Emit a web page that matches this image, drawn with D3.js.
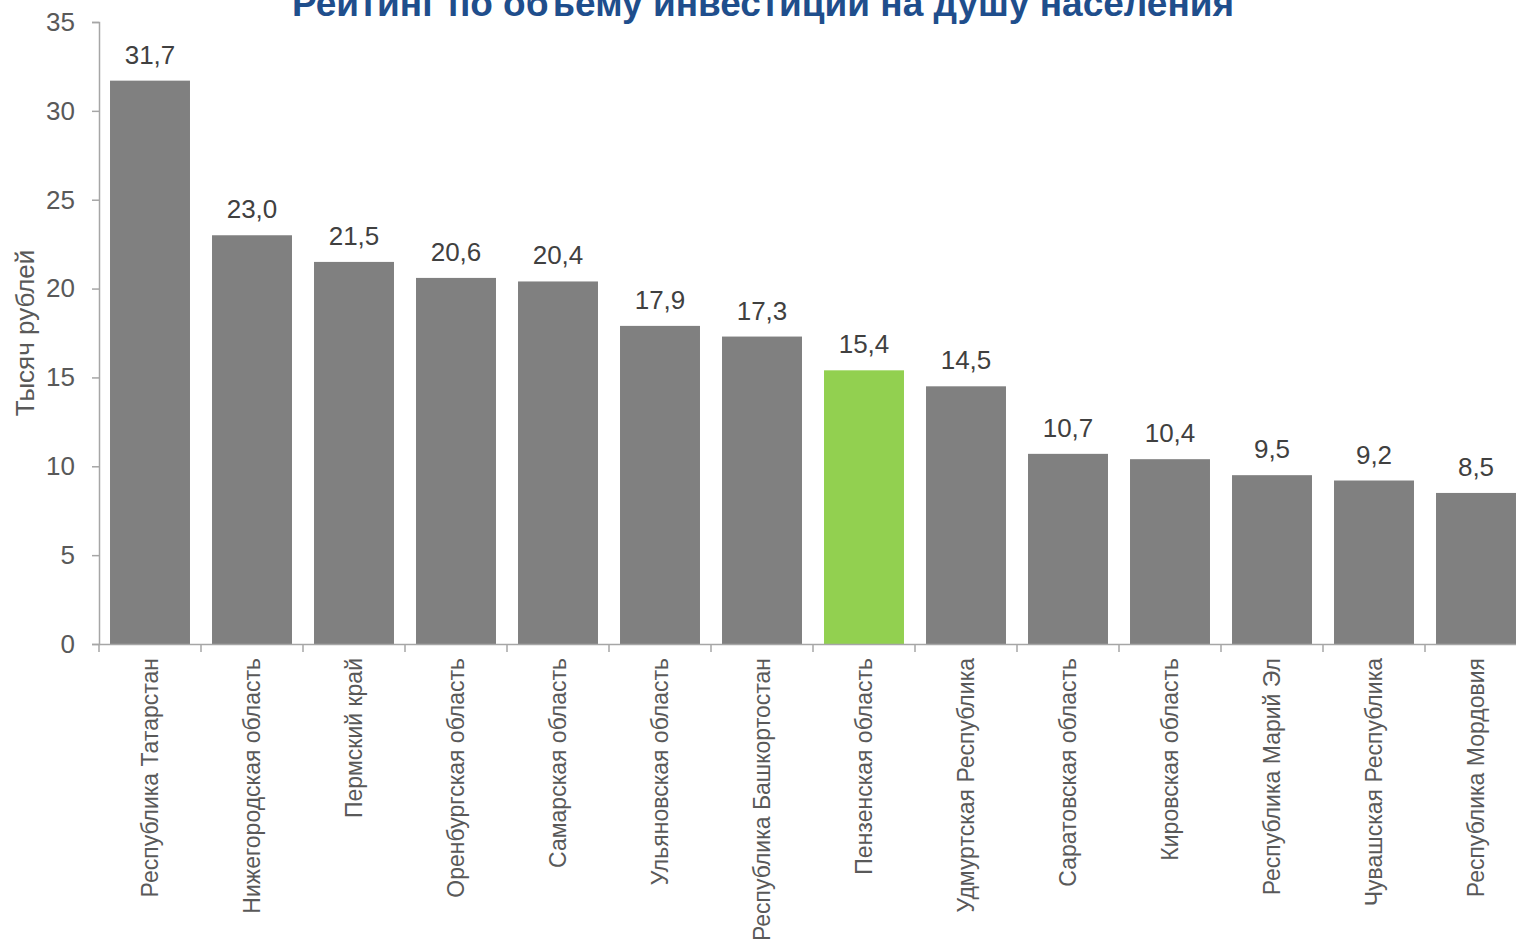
<!DOCTYPE html>
<html>
<head>
<meta charset="utf-8">
<script src="https://cdn.jsdelivr.net/npm/d3@7"></script>
<style>
  body { margin: 0; background: #fff; overflow: hidden; }
</style>
</head>
<body>
<script>
// данные
const regions = [
  "Республика Татарстан", "Нижегородская область", "Пермский край",
  "Оренбургская область", "Самарская область", "Ульяновская область",
  "Республика Башкортостан", "Пензенская область", "Удмуртская Республика",
  "Саратовская область", "Кировская область", "Республика Марий Эл",
  "Чувашская Республика", "Республика Мордовия"
];
const values = [31.7, 23.0, 21.5, 20.6, 20.4, 17.9, 17.3, 15.4, 14.5, 10.7, 10.4, 9.5, 9.2, 8.5];
const highlight = "Пензенская область";
const yTicks = [0, 5, 10, 15, 20, 25, 30, 35];

const width = 1516, height = 944;
const font = "'Liberation Sans', Arial, sans-serif";

const svg = d3.select("body").append("svg")
  .attr("width", width)
  .attr("height", height)
  .style("font-family", font);

const x = d3.scaleBand()
  .domain(regions)
  .range([99, 99 + 102 * regions.length])
  .paddingInner(0.216)
  .paddingOuter(0.108);

const y = d3.scaleLinear()
  .domain([0, 35])
  .range([644, 22]);

// заголовок
svg.append("text")
  .attr("x", 763)
  .attr("y", 16)
  .attr("text-anchor", "middle")
  .attr("font-size", "37px")
  .attr("font-weight", "bold")
  .attr("fill", "#1F4E8C")
  .text("Рейтинг по объему инвестиций на душу населения");

// столбцы
svg.selectAll("rect.bar")
  .data(regions)
  .join("rect")
  .attr("class", "bar")
  .attr("x", d => x(d))
  .attr("y", (d, i) => y(values[i]))
  .attr("width", x.bandwidth())
  .attr("height", (d, i) => y(0) - y(values[i]))
  .attr("fill", d => d === highlight ? "#92D050" : "#808080");

// подписи значений
svg.selectAll("text.val")
  .data(regions)
  .join("text")
  .attr("class", "val")
  .attr("x", d => x(d) + x.bandwidth() / 2)
  .attr("y", (d, i) => y(values[i]) - 17)
  .attr("text-anchor", "middle")
  .attr("font-size", "26px")
  .attr("fill", "#404040")
  .text((d, i) => d3.format(".1f")(values[i]).replace(".", ","));

// ось Y
const yAxis = svg.append("g")
  .attr("transform", "translate(99,0)")
  .call(d3.axisLeft(y).tickValues(yTicks).tickSize(7).tickPadding(17));
yAxis.select(".domain").attr("stroke", "#a6a6a6").attr("stroke-width", 1.5);
yAxis.selectAll(".tick line").attr("stroke", "#a6a6a6").attr("stroke-width", 1.5);
yAxis.selectAll(".tick text")
  .attr("font-size", "26px")
  .attr("font-family", font)
  .attr("fill", "#595959");

// ось X
const xAxis = svg.append("g")
  .attr("transform", "translate(0,644)")
  .call(d3.axisBottom(x).tickSize(0).tickSizeOuter(0));
xAxis.select(".domain").attr("stroke", "#a6a6a6").attr("stroke-width", 1.5);
xAxis.selectAll(".tick text")
  .attr("font-size", "23px")
  .attr("font-family", font)
  .attr("fill", "#595959")
  .attr("transform", "rotate(-90)")
  .attr("text-anchor", "end")
  .attr("dy", "0.35em")
  .attr("x", -14)
  .attr("y", 0);

// засечки между категориями
svg.append("g")
  .selectAll("line")
  .data(d3.range(regions.length + 1))
  .join("line")
  .attr("x1", i => 99 + 102 * i)
  .attr("x2", i => 99 + 102 * i)
  .attr("y1", 644)
  .attr("y2", 652)
  .attr("stroke", "#a6a6a6")
  .attr("stroke-width", 1.5);

// подпись оси Y
svg.append("text")
  .attr("transform", "translate(34,333) rotate(-90)")
  .attr("text-anchor", "middle")
  .attr("font-size", "26px")
  .attr("fill", "#595959")
  .text("Тысяч рублей");
</script>
</body>
</html>
